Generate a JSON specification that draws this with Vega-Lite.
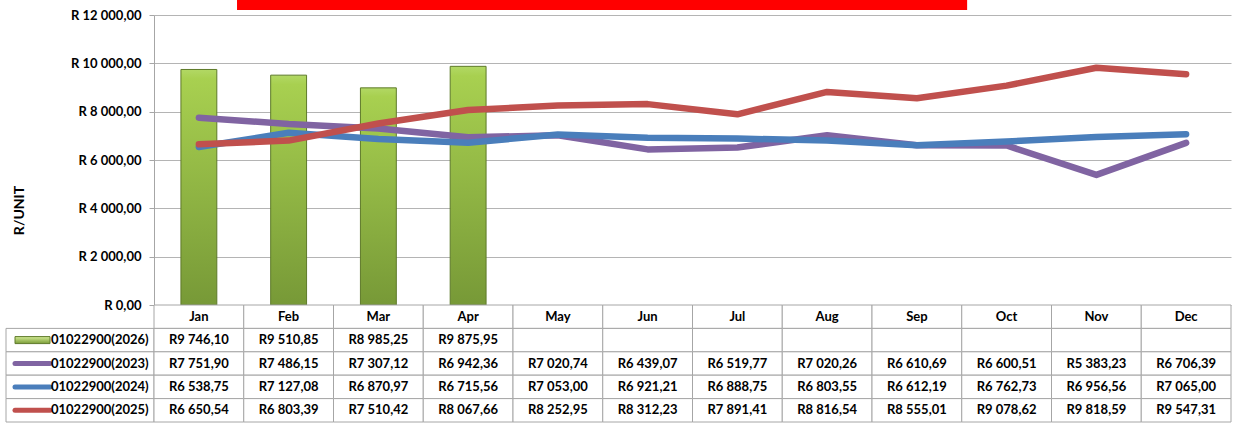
{
  "$schema": "https://vega.github.io/schema/vega-lite/v6.json",
  "padding": {"left": 5, "top": 0, "right": 0, "bottom": 0},
  "background": "#ffffff",
  "config": {
    "view": {"stroke": null},
    "font": "Lato",
    "locale": {"number": {"decimal": ",", "thousands": " ", "grouping": [3], "currency": ["R", ""]}}
  },
  "datasets": {
    "months": [{"month": "Jan"}, {"month": "Feb"}, {"month": "Mar"}, {"month": "Apr"}, {"month": "May"}, {"month": "Jun"}, {"month": "Jul"}, {"month": "Aug"}, {"month": "Sep"}, {"month": "Oct"}, {"month": "Nov"}, {"month": "Dec"}],
    "legendRows": [{"series": "01022900(2026)"}, {"series": "01022900(2023)"}, {"series": "01022900(2024)"}, {"series": "01022900(2025)"}],
    "vals": [
      {"month": "Jan", "series": "01022900(2026)", "value": 9746.10},
      {"month": "Feb", "series": "01022900(2026)", "value": 9510.85},
      {"month": "Mar", "series": "01022900(2026)", "value": 8985.25},
      {"month": "Apr", "series": "01022900(2026)", "value": 9875.95},
      {"month": "May", "series": "01022900(2026)", "value": null},
      {"month": "Jun", "series": "01022900(2026)", "value": null},
      {"month": "Jul", "series": "01022900(2026)", "value": null},
      {"month": "Aug", "series": "01022900(2026)", "value": null},
      {"month": "Sep", "series": "01022900(2026)", "value": null},
      {"month": "Oct", "series": "01022900(2026)", "value": null},
      {"month": "Nov", "series": "01022900(2026)", "value": null},
      {"month": "Dec", "series": "01022900(2026)", "value": null},
      {"month": "Jan", "series": "01022900(2023)", "value": 7751.90},
      {"month": "Feb", "series": "01022900(2023)", "value": 7486.15},
      {"month": "Mar", "series": "01022900(2023)", "value": 7307.12},
      {"month": "Apr", "series": "01022900(2023)", "value": 6942.36},
      {"month": "May", "series": "01022900(2023)", "value": 7020.74},
      {"month": "Jun", "series": "01022900(2023)", "value": 6439.07},
      {"month": "Jul", "series": "01022900(2023)", "value": 6519.77},
      {"month": "Aug", "series": "01022900(2023)", "value": 7020.26},
      {"month": "Sep", "series": "01022900(2023)", "value": 6610.69},
      {"month": "Oct", "series": "01022900(2023)", "value": 6600.51},
      {"month": "Nov", "series": "01022900(2023)", "value": 5383.23},
      {"month": "Dec", "series": "01022900(2023)", "value": 6706.39},
      {"month": "Jan", "series": "01022900(2024)", "value": 6538.75},
      {"month": "Feb", "series": "01022900(2024)", "value": 7127.08},
      {"month": "Mar", "series": "01022900(2024)", "value": 6870.97},
      {"month": "Apr", "series": "01022900(2024)", "value": 6715.56},
      {"month": "May", "series": "01022900(2024)", "value": 7053.00},
      {"month": "Jun", "series": "01022900(2024)", "value": 6921.21},
      {"month": "Jul", "series": "01022900(2024)", "value": 6888.75},
      {"month": "Aug", "series": "01022900(2024)", "value": 6803.55},
      {"month": "Sep", "series": "01022900(2024)", "value": 6612.19},
      {"month": "Oct", "series": "01022900(2024)", "value": 6762.73},
      {"month": "Nov", "series": "01022900(2024)", "value": 6956.56},
      {"month": "Dec", "series": "01022900(2024)", "value": 7065.00},
      {"month": "Jan", "series": "01022900(2025)", "value": 6650.54},
      {"month": "Feb", "series": "01022900(2025)", "value": 6803.39},
      {"month": "Mar", "series": "01022900(2025)", "value": 7510.42},
      {"month": "Apr", "series": "01022900(2025)", "value": 8067.66},
      {"month": "May", "series": "01022900(2025)", "value": 8252.95},
      {"month": "Jun", "series": "01022900(2025)", "value": 8312.23},
      {"month": "Jul", "series": "01022900(2025)", "value": 7891.41},
      {"month": "Aug", "series": "01022900(2025)", "value": 8816.54},
      {"month": "Sep", "series": "01022900(2025)", "value": 8555.01},
      {"month": "Oct", "series": "01022900(2025)", "value": 9078.62},
      {"month": "Nov", "series": "01022900(2025)", "value": 9818.59},
      {"month": "Dec", "series": "01022900(2025)", "value": 9547.31}
    ]
  },
  "columns": 2,
  "spacing": 0,
  "bounds": "flush",
  "align": "each",
  "resolve": {"scale": {"x": "independent", "y": "independent", "color": "independent"}},
  "concat": [
    {
      "width": 148,
      "height": 290,
      "data": {"values": []},
      "mark": "point",
      "encoding": {}
    },
    {
      "width": 1077,
      "height": 290,
      "data": {"name": "vals"},
      "resolve": {"scale": {"x": "independent"}},
      "layer": [
        {
          "transform": [{"filter": "datum.series == '01022900(2026)' && datum.value != null"}],
          "mark": {
            "type": "bar",
            "width": {"band": 0.4},
            "fill": {"gradient": "linear", "x1": 0, "y1": 0, "x2": 0, "y2": 1, "stops": [{"offset": 0, "color": "#b2d865"}, {"offset": 0.04, "color": "#a8d050"}, {"offset": 1, "color": "#779937"}]},
            "stroke": "#5e7a2a",
            "strokeWidth": 1
          },
          "encoding": {
            "x": {"field": "month", "type": "nominal", "scale": {"domain": ["Jan", "Feb", "Mar", "Apr", "May", "Jun", "Jul", "Aug", "Sep", "Oct", "Nov", "Dec"], "paddingInner": 0, "paddingOuter": 0}, "axis": null},
            "y": {
              "field": "value", "type": "quantitative", "title": "R/UNIT",
              "scale": {"domain": [0, 12000], "nice": false},
              "axis": {"values": [0, 2000, 4000, 6000, 8000, 10000, 12000], "labelExpr": "'R ' + format(datum.value, ',.2f')", "labelFont": "Lato", "labelFontSize": 13, "labelFontWeight": "bold", "labelColor": "#000000", "labelPadding": 8, "tickSize": 5, "tickColor": "#a6a6a6", "domainColor": "#a6a6a6", "grid": true, "gridColor": "#b4b4b4", "titleFont": "Lato", "titleFontSize": 14, "titleFontWeight": "bold", "titleColor": "#000000", "titleX": -128, "titleY": 195}
            }
          }
        },
        {
          "transform": [{"filter": "datum.series != '01022900(2026)'"}],
          "mark": {"type": "line", "strokeWidth": 6.5, "strokeCap": "round", "strokeJoin": "round"},
          "encoding": {
            "x": {"field": "month", "type": "nominal", "scale": {"domain": ["Jan", "Feb", "Mar", "Apr", "May", "Jun", "Jul", "Aug", "Sep", "Oct", "Nov", "Dec"], "paddingInner": 0, "paddingOuter": 0}, "axis": null},
            "y": {
              "field": "value", "type": "quantitative", "title": "R/UNIT",
              "scale": {"domain": [0, 12000], "nice": false},
              "axis": {"values": [0, 2000, 4000, 6000, 8000, 10000, 12000], "labelExpr": "'R ' + format(datum.value, ',.2f')", "labelFont": "Lato", "labelFontSize": 13, "labelFontWeight": "bold", "labelColor": "#000000", "labelPadding": 8, "tickSize": 5, "tickColor": "#a6a6a6", "domainColor": "#a6a6a6", "grid": true, "gridColor": "#b4b4b4", "titleFont": "Lato", "titleFontSize": 14, "titleFontWeight": "bold", "titleColor": "#000000", "titleX": -128, "titleY": 195}
            },
            "color": {"field": "series", "type": "nominal", "scale": {"domain": ["01022900(2023)", "01022900(2024)", "01022900(2025)"], "range": ["#8064a2", "#4a7ebb", "#c0504d"]}, "legend": null}
          }
        },
        {
          "data": {"values": [{"label": "title"}]},
          "mark": {"type": "rect", "fill": "#ff0000"},
          "encoding": {
            "x": {"datum": 0.925, "type": "quantitative", "scale": {"domain": [0, 12], "nice": false, "zero": false}, "axis": null},
            "x2": {"datum": 9.06},
            "y": {"datum": 12620, "type": "quantitative", "scale": {"domain": [0, 12000], "nice": false}, "title": "R/UNIT",
              "axis": {"values": [0, 2000, 4000, 6000, 8000, 10000, 12000], "labelExpr": "'R ' + format(datum.value, ',.2f')", "labelFont": "Lato", "labelFontSize": 13, "labelFontWeight": "bold", "labelColor": "#000000", "labelPadding": 8, "tickSize": 5, "tickColor": "#a6a6a6", "domainColor": "#a6a6a6", "grid": true, "gridColor": "#b4b4b4", "titleFont": "Lato", "titleFontSize": 14, "titleFontWeight": "bold", "titleColor": "#000000", "titleX": -128, "titleY": 195}},
            "y2": {"datum": 12207}
          }
        }
      ]
    },
    {
      "width": 148,
      "height": 117,
      "data": {"name": "legendRows"},
      "layer": [
        {
          "mark": {"type": "rect", "fill": "#ffffff", "stroke": "#a6a6a6", "strokeWidth": 1},
          "encoding": {
            "x": {"datum": 0, "type": "quantitative", "scale": {"domain": [0, 148], "nice": false, "zero": false}, "axis": null},
            "x2": {"datum": 148},
            "y": {"field": "series", "type": "nominal", "scale": {"domain": ["hdr", "01022900(2026)", "01022900(2023)", "01022900(2024)", "01022900(2025)"], "paddingInner": 0, "paddingOuter": 0}, "axis": null}
          }
        },
        {
          "transform": [{"filter": "datum.series == '01022900(2026)'"}],
          "mark": {"type": "bar", "height": 7, "fill": {"gradient": "linear", "x1": 0, "y1": 0, "x2": 0, "y2": 1, "stops": [{"offset": 0, "color": "#d4ec96"}, {"offset": 1, "color": "#7a9c38"}]}, "stroke": "#5e7a2a", "strokeWidth": 1},
          "encoding": {
            "x": {"datum": 9, "type": "quantitative", "scale": {"domain": [0, 148], "nice": false, "zero": false}, "axis": null},
            "x2": {"datum": 44},
            "y": {"field": "series", "type": "nominal", "scale": {"domain": ["hdr", "01022900(2026)", "01022900(2023)", "01022900(2024)", "01022900(2025)"], "paddingInner": 0, "paddingOuter": 0}, "axis": null}
          }
        },
        {
          "transform": [{"filter": "datum.series != '01022900(2026)'"}],
          "mark": {"type": "rule", "strokeWidth": 5, "strokeCap": "round"},
          "encoding": {
            "x": {"datum": 9, "type": "quantitative", "scale": {"domain": [0, 148], "nice": false, "zero": false}, "axis": null},
            "x2": {"datum": 44},
            "y": {"field": "series", "type": "nominal", "scale": {"domain": ["hdr", "01022900(2026)", "01022900(2023)", "01022900(2024)", "01022900(2025)"], "paddingInner": 0, "paddingOuter": 0}, "axis": null},
            "color": {"field": "series", "type": "nominal", "scale": {"domain": ["01022900(2023)", "01022900(2024)", "01022900(2025)"], "range": ["#8064a2", "#4a7ebb", "#c0504d"]}, "legend": null}
          }
        },
        {
          "mark": {"type": "text", "align": "left", "baseline": "middle", "font": "Lato", "fontSize": 13, "fontWeight": "bold", "color": "#000000"},
          "encoding": {
            "x": {"datum": 45, "type": "quantitative", "scale": {"domain": [0, 148], "nice": false, "zero": false}, "axis": null},
            "y": {"field": "series", "type": "nominal", "scale": {"domain": ["hdr", "01022900(2026)", "01022900(2023)", "01022900(2024)", "01022900(2025)"], "paddingInner": 0, "paddingOuter": 0}, "axis": null},
            "text": {"field": "series"}
          }
        }
      ]
    },
    {
      "width": 1077,
      "height": 117,
      "layer": [
        {
          "data": {"name": "months"},
          "mark": {"type": "rect", "fill": "#ffffff", "stroke": "#a6a6a6", "strokeWidth": 1},
          "encoding": {
            "x": {"field": "month", "type": "nominal", "scale": {"domain": ["Jan", "Feb", "Mar", "Apr", "May", "Jun", "Jul", "Aug", "Sep", "Oct", "Nov", "Dec"], "paddingInner": 0, "paddingOuter": 0}, "axis": null},
            "y": {"datum": "hdr", "type": "nominal", "scale": {"domain": ["hdr", "01022900(2026)", "01022900(2023)", "01022900(2024)", "01022900(2025)"], "paddingInner": 0, "paddingOuter": 0}, "axis": null}
          }
        },
        {
          "data": {"name": "vals"},
          "mark": {"type": "rect", "fill": "#ffffff", "stroke": "#a6a6a6", "strokeWidth": 1},
          "encoding": {
            "x": {"field": "month", "type": "nominal", "scale": {"domain": ["Jan", "Feb", "Mar", "Apr", "May", "Jun", "Jul", "Aug", "Sep", "Oct", "Nov", "Dec"], "paddingInner": 0, "paddingOuter": 0}, "axis": null},
            "y": {"field": "series", "type": "nominal", "scale": {"domain": ["hdr", "01022900(2026)", "01022900(2023)", "01022900(2024)", "01022900(2025)"], "paddingInner": 0, "paddingOuter": 0}, "axis": null}
          }
        },
        {
          "data": {"name": "months"},
          "mark": {"type": "text", "align": "center", "baseline": "middle", "font": "Lato", "fontSize": 13, "fontWeight": "bold", "color": "#000000"},
          "encoding": {
            "x": {"field": "month", "type": "nominal", "scale": {"domain": ["Jan", "Feb", "Mar", "Apr", "May", "Jun", "Jul", "Aug", "Sep", "Oct", "Nov", "Dec"], "paddingInner": 0, "paddingOuter": 0}, "axis": null},
            "y": {"datum": "hdr", "type": "nominal", "scale": {"domain": ["hdr", "01022900(2026)", "01022900(2023)", "01022900(2024)", "01022900(2025)"], "paddingInner": 0, "paddingOuter": 0}, "axis": null},
            "text": {"field": "month"}
          }
        },
        {
          "data": {"name": "vals"},
          "transform": [{"filter": "datum.value != null"}],
          "mark": {"type": "text", "align": "center", "baseline": "middle", "font": "Lato", "fontSize": 13, "fontWeight": "bold", "color": "#000000"},
          "encoding": {
            "x": {"field": "month", "type": "nominal", "scale": {"domain": ["Jan", "Feb", "Mar", "Apr", "May", "Jun", "Jul", "Aug", "Sep", "Oct", "Nov", "Dec"], "paddingInner": 0, "paddingOuter": 0}, "axis": null},
            "y": {"field": "series", "type": "nominal", "scale": {"domain": ["hdr", "01022900(2026)", "01022900(2023)", "01022900(2024)", "01022900(2025)"], "paddingInner": 0, "paddingOuter": 0}, "axis": null},
            "text": {"field": "value", "type": "quantitative", "format": "$,.2f"}
          }
        }
      ]
    }
  ]
}
